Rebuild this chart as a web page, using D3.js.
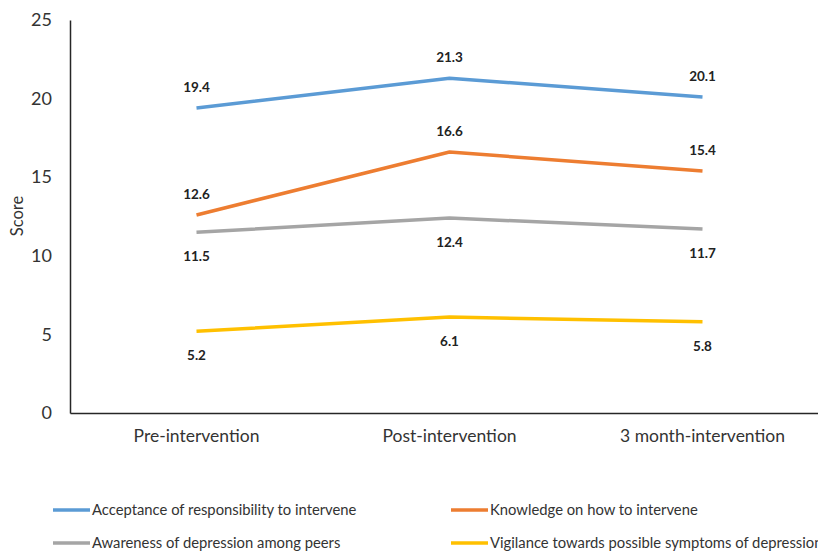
<!DOCTYPE html>
<html>
<head>
<meta charset="utf-8">
<script src="https://cdn.jsdelivr.net/npm/d3@7"></script>
<style>
  html, body { margin: 0; padding: 0; background: #fff; }
  svg { display: block; font-family: Lato, "Open Sans", sans-serif; }
</style>
</head>
<body>
<svg id="chart" width="818" height="551"></svg>
<script>
// Time points along the x axis
const categories = ["Pre-intervention", "Post-intervention", "3 month-intervention"];

// Mean scores per subscale
const acceptance = [19.4, 21.3, 20.1];
const knowledge = [12.6, 16.6, 15.4];
const awareness = [11.5, 12.4, 11.7];
const vigilance = [5.2, 6.1, 5.8];

const yTicks = [0, 5, 10, 15, 20, 25];

const series = [
  { name: "Acceptance of responsibility to intervene", values: acceptance, color: "#5B9BD5", labelPos: "above" },
  { name: "Knowledge on how to intervene", values: knowledge, color: "#ED7D31", labelPos: "above" },
  { name: "Awareness of depression among peers", values: awareness, color: "#A5A5A5", labelPos: "below" },
  { name: "Vigilance towards possible symptoms of depression", values: vigilance, color: "#FFC000", labelPos: "below" }
];

const svg = d3.select("#chart");
const plot = { left: 70, right: 829, top: 20, bottom: 413 };

const x = d3.scaleBand().domain(categories).range([plot.left, plot.right]);
const y = d3.scaleLinear().domain([0, 25]).range([plot.bottom, plot.top]);
const cx = c => x(c) + x.bandwidth() / 2;

// Y axis: line and tick labels only
const yAxis = svg.append("g")
  .attr("transform", `translate(${plot.left},0)`)
  .call(d3.axisLeft(y).tickValues(yTicks).tickSize(0).tickPadding(18));
yAxis.select(".domain").attr("stroke", "#262626").attr("stroke-width", 1.5);
yAxis.selectAll("text").attr("font-size", 18).attr("fill", "#333")
  .attr("font-family", "Lato, sans-serif");

// X axis
const xAxis = svg.append("g")
  .attr("transform", `translate(0,${plot.bottom})`)
  .call(d3.axisBottom(x).tickSize(0).tickPadding(17));
xAxis.select(".domain").attr("stroke", "#262626").attr("stroke-width", 1.5);
xAxis.selectAll("text").attr("font-size", 17.5).attr("fill", "#333")
  .attr("font-family", "Lato, sans-serif");

// Y axis title
svg.append("text")
  .attr("transform", "translate(23,216) rotate(-90)")
  .attr("text-anchor", "middle")
  .attr("font-size", 16.5)
  .attr("fill", "#333")
  .text("Score");

// Lines
const line = d3.line().x((d, i) => cx(categories[i])).y(d => y(d));
svg.append("g").selectAll("path")
  .data(series)
  .join("path")
  .attr("d", s => line(s.values))
  .attr("fill", "none")
  .attr("stroke", s => s.color)
  .attr("stroke-width", 3.5)
  .attr("stroke-linejoin", "round");

// Data labels
series.forEach(s => {
  svg.append("g").selectAll("text")
    .data(s.values)
    .join("text")
    .attr("x", (d, i) => cx(categories[i]))
    .attr("y", d => y(d) + (s.labelPos === "above" ? -16 : 29))
    .attr("text-anchor", "middle")
    .attr("font-size", 13.5)
    .attr("font-weight", "bold")
    .attr("fill", "#222")
    .text(d => d.toFixed(1));
});

// Legend (two columns, two rows)
const legendCols = [53, 451];
const legendRows = [510, 543];
const legend = svg.append("g").selectAll("g")
  .data(series)
  .join("g")
  .attr("transform", (s, i) => `translate(${legendCols[i % 2]},${legendRows[Math.floor(i / 2)]})`);
legend.append("line")
  .attr("x1", 0).attr("x2", 37).attr("y1", 0).attr("y2", 0)
  .attr("stroke", s => s.color).attr("stroke-width", 3.5);
legend.append("text")
  .attr("x", 39).attr("y", 0).attr("dy", "0.35em")
  .attr("font-size", 14.8).attr("fill", "#333")
  .text(s => s.name);
</script>
</body>
</html>
